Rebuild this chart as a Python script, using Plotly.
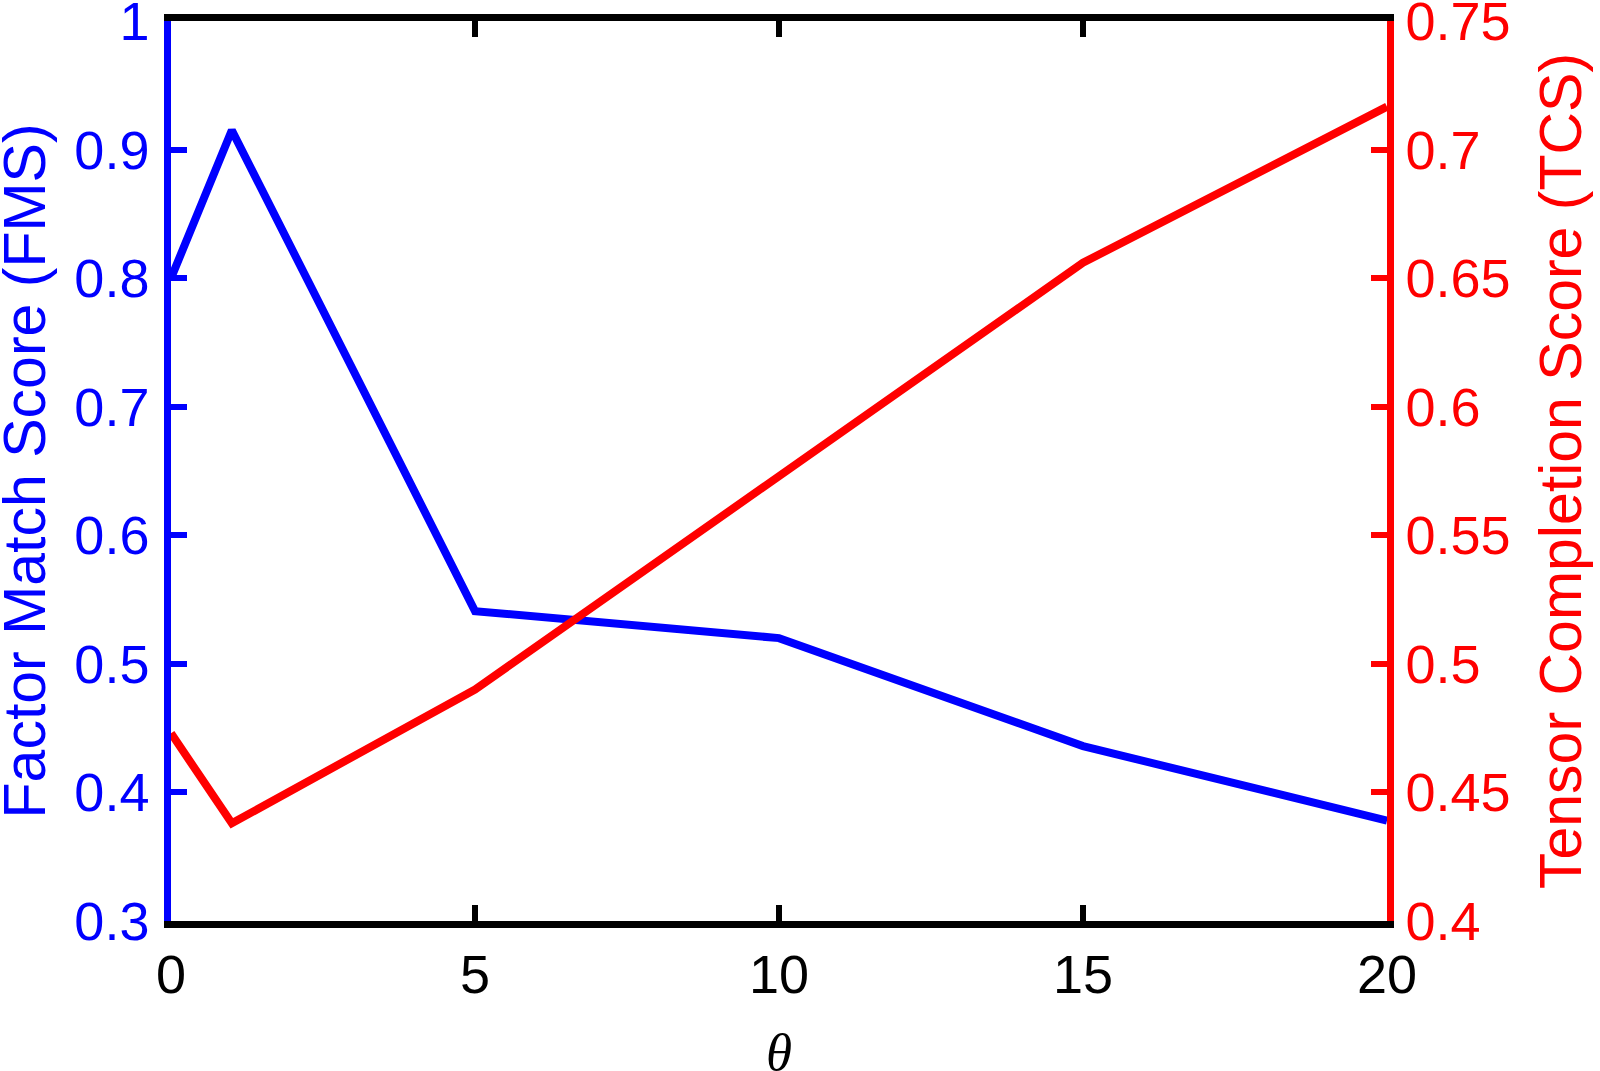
import plotly.graph_objects as go

theta = [0, 1, 5, 10, 15, 20]
fms = [0.80, 0.915, 0.541, 0.520, 0.436, 0.378]
tcs = [0.473, 0.438, 0.490, 0.573, 0.656, 0.7167]

x_ticks = [0, 5, 10, 15, 20]
fms_ticks = [0.3, 0.4, 0.5, 0.6, 0.7, 0.8, 0.9, 1.0]
fms_labels = ["0.3", "0.4", "0.5", "0.6", "0.7", "0.8", "0.9", "1"]
tcs_ticks = [0.4, 0.45, 0.5, 0.55, 0.6, 0.65, 0.7, 0.75]
tcs_labels = ["0.4", "0.45", "0.5", "0.55", "0.6", "0.65", "0.7", "0.75"]

BLUE = "#0000FF"
RED = "#FF0000"
FONT = "Liberation Sans, Arial, Helvetica, sans-serif"
FS = 54
TFS = 59

fig = go.Figure()
fig.add_trace(go.Scatter(x=theta, y=fms, mode="lines", yaxis="y",
                         line=dict(color=BLUE, width=8), showlegend=False))
fig.add_trace(go.Scatter(x=theta, y=tcs, mode="lines", yaxis="y2",
                         line=dict(color=RED, width=8), showlegend=False))

common = dict(showline=True, linewidth=6.5, ticks="inside", ticklen=16, tickwidth=6,
              showgrid=False, zeroline=False, automargin=False,
              ticklabeloverflow="allow")

fig.update_layout(
    width=1600, height=1071,
    margin=dict(l=171, r=213, t=21, b=150, pad=0),
    paper_bgcolor="white", plot_bgcolor="white",
    font=dict(family=FONT, size=FS),
    xaxis=dict(
        range=[-0.0005, 20.0005], tickvals=x_ticks, ticktext=[str(v) for v in x_ticks],
        linecolor="black", mirror="ticks", tickcolor="black", ticklabelstandoff=0,
        tickfont=dict(family=FONT, size=FS, color="black"), **common,
    ),
    yaxis=dict(
        range=[0.29995, 1.00005], tickvals=fms_ticks, ticktext=fms_labels,
        linecolor=BLUE, mirror=False, tickcolor=BLUE, ticklabelstandoff=4,
        tickfont=dict(family=FONT, size=FS, color=BLUE), **common,
    ),
    yaxis2=dict(
        range=[0.39998, 0.75002], tickvals=tcs_ticks, ticktext=tcs_labels,
        overlaying="y", side="right",
        linecolor=RED, mirror=False, tickcolor=RED, ticklabelstandoff=1,
        tickfont=dict(family=FONT, size=FS, color=RED), **common,
    ),
    annotations=[
        dict(text="Factor Match Score (FMS)", xref="paper", yref="paper",
             x=-0.1197, y=0.5, xanchor="center", yanchor="middle", textangle=-90,
             showarrow=False, font=dict(family=FONT, size=TFS, color=BLUE)),
        dict(text="Tensor Completion Score (TCS)", xref="paper", yref="paper",
             x=1.1431, y=0.5, xanchor="center", yanchor="middle", textangle=-90,
             showarrow=False, font=dict(family=FONT, size=TFS, color=RED)),
        dict(text="θ", xref="paper", yref="paper",
             x=0.5, y=-0.1453, xanchor="center", yanchor="middle",
             showarrow=False,
             font=dict(family="Liberation Serif, Times New Roman, serif",
                       size=53, color="black", style="italic")),
    ],
)

fig.write_html("out.html", config={"displayModeBar": False},
               post_script="document.body.style.margin='0';")
